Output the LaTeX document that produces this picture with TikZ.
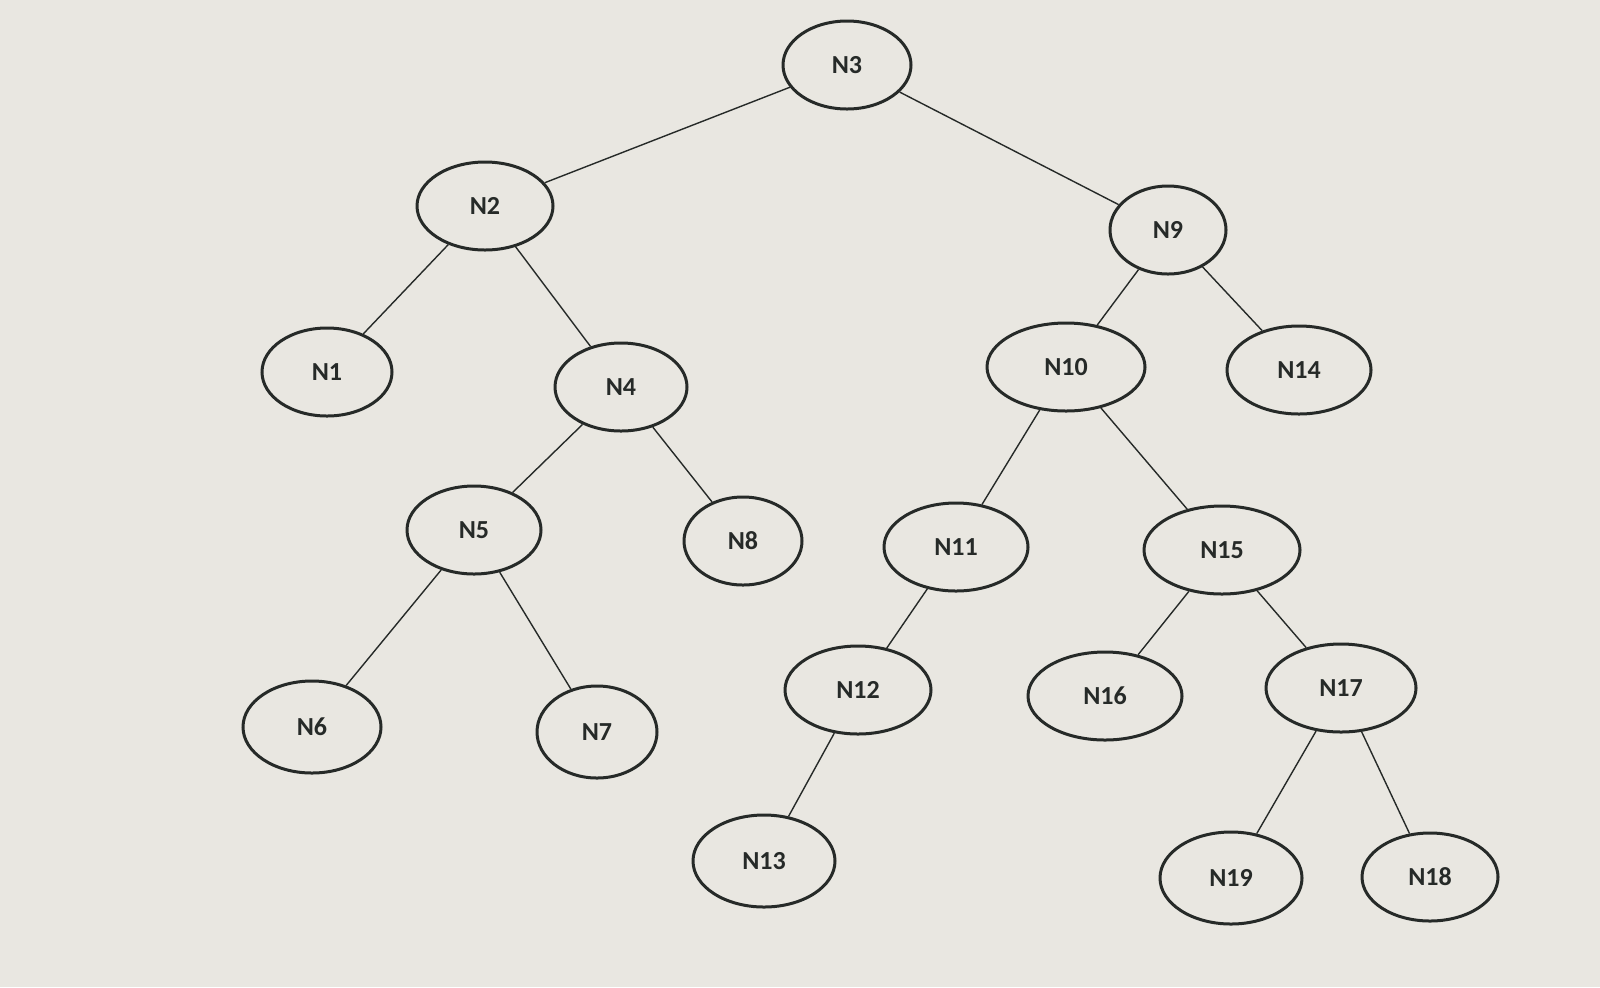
\documentclass[tikz,border=0pt]{standalone}
\usepackage{fontspec}
\setmainfont{Carlito}
\usetikzlibrary{shapes.geometric}
\definecolor{paper}{HTML}{E9E7E1}
\definecolor{ink}{HTML}{262A28}
\begin{document}
\begin{tikzpicture}[x=0.5pt,y=-0.5pt,
  nd/.style={ellipse,draw=ink,line width=1.5pt,inner sep=0pt,minimum height=44pt,
    font=\fontsize{13}{15}\selectfont\bfseries,text=ink},
  ed/.style={draw=ink,line width=0.7pt}]
\fill[paper] (0,0) rectangle (1600,987);
\useasboundingbox (0,0) rectangle (1600,987);
\node[nd,minimum width=64pt] (N3) at (847,65) {N3};
\node[nd,minimum width=68pt] (N2) at (485,206) {N2};
\node[nd,minimum width=58pt] (N9) at (1168,230) {N9};
\node[nd,minimum width=65pt] (N1) at (327,372) {N1};
\node[nd,minimum width=66pt] (N4) at (621,387) {N4};
\node[nd,minimum width=79pt] (N10) at (1066,367) {N10};
\node[nd,minimum width=72pt] (N14) at (1299,370) {N14};
\node[nd,minimum width=67pt] (N5) at (474,530) {N5};
\node[nd,minimum width=59pt] (N8) at (743,541) {N8};
\node[nd,minimum width=72pt] (N11) at (956,547) {N11};
\node[nd,minimum width=78pt] (N15) at (1222,550) {N15};
\node[nd,minimum width=69pt,minimum height=46pt] (N6) at (312,727) {N6};
\node[nd,minimum width=60pt,minimum height=46pt] (N7) at (597,732) {N7};
\node[nd,minimum width=73pt] (N12) at (858,690) {N12};
\node[nd,minimum width=77pt] (N16) at (1105,696) {N16};
\node[nd,minimum width=75pt] (N17) at (1341,688) {N17};
\node[nd,minimum width=71pt,minimum height=46pt] (N13) at (764,861) {N13};
\node[nd,minimum width=71pt,minimum height=46pt] (N19) at (1231,878) {N19};
\node[nd,minimum width=68pt] (N18) at (1430,877) {N18};
\foreach \a/\b in {N3/N2,N3/N9,N2/N1,N2/N4,N4/N5,N4/N8,N5/N6,N5/N7,N9/N10,N9/N14,
  N10/N11,N10/N15,N11/N12,N12/N13,N15/N16,N15/N17,N17/N19,N17/N18}
  \draw[ed] (\a) -- (\b);
\end{tikzpicture}
\end{document}
